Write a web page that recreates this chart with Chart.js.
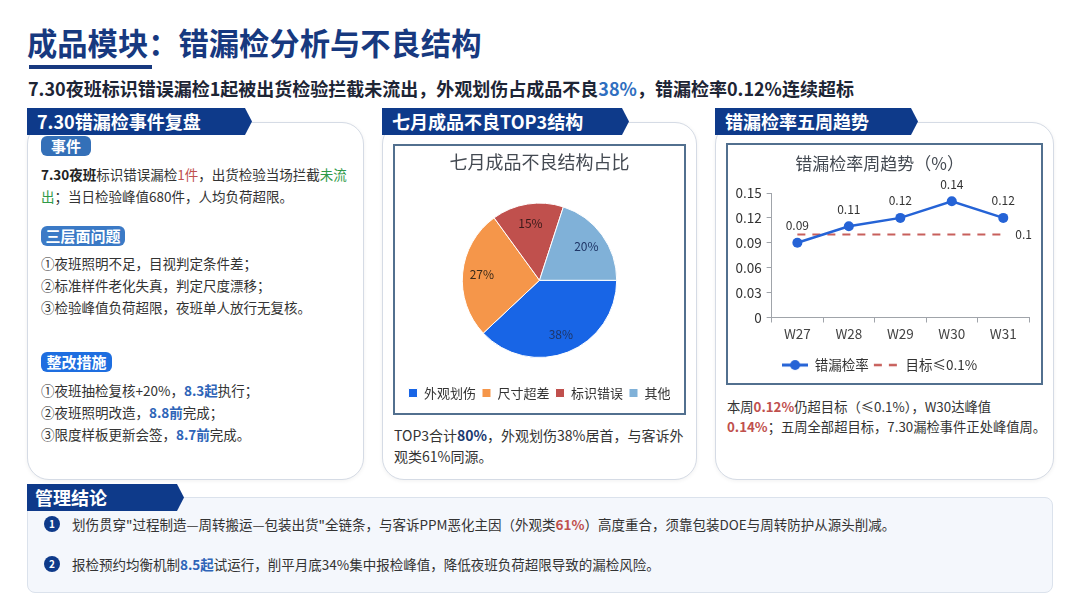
<!DOCTYPE html>
<html><head><meta charset="utf-8">
<script src="https://cdn.jsdelivr.net/npm/chart.js@4.4.1/dist/chart.umd.min.js"></script>
<style>
*{margin:0;padding:0;box-sizing:border-box}
body{width:1080px;height:608px;background:#fff;font-family:"Noto Sans CJK SC","Noto Sans",sans-serif;color:#333;position:relative;overflow:hidden}
.abs{position:absolute}
#title{left:27px;top:20px;font-size:30.3px;font-weight:700;color:#17397f;line-height:44px;white-space:nowrap}
#uline{left:29px;top:65px;width:123px;height:4px;background:#17397f}
#sub{left:28px;top:76px;font-size:18px;font-weight:700;color:#1d2535;line-height:24px;white-space:nowrap}
.card{position:absolute;background:#fff;border:1.5px solid #d5dbe5;border-radius:22px;box-shadow:0 1px 4px rgba(0,0,0,0.06)}
.tab{position:absolute;height:27px;background:#0e3a8a;color:#fff;font-weight:700;font-size:18px;line-height:27px;padding-left:10px;white-space:nowrap;clip-path:polygon(0 0,calc(100% - 7px) 0,100% 50%,calc(100% - 7px) 100%,0 100%)}
.badge{position:absolute;color:#fff;font-weight:700;font-size:15px;line-height:20px;height:20px;text-align:center;border-radius:6px}
.txt{position:absolute;font-size:13.5px;line-height:22px;white-space:nowrap;color:#333}
.frame{position:absolute;border:2px solid #52708f;background:#fff}
.red{color:#c0504d}
.rb{color:#c0504d;font-weight:700}
.grn{color:#2f9a48}
.bb{color:#2e64b8;font-weight:700}
.num{position:absolute;width:16px;height:16px;border-radius:50%;background:#0e3a8a;color:#fff;font-size:10px;font-weight:700;line-height:16px;text-align:center}
</style>
</head>
<body>
<div id="title" class="abs">成品模块：错漏检分析与不良结构</div>
<div id="uline" class="abs"></div>
<div id="sub" class="abs">7.30夜班标识错误漏检1起被出货检验拦截未流出，外观划伤占成品不良<span style="color:#2f6fc0">38%</span>，错漏检率0.12%连续超标</div>

<!-- panel 1 -->
<div class="card" style="left:27px;top:122px;width:337px;height:358px"></div>
<div class="tab" style="left:27px;top:108px;width:225px">7.30错漏检事件复盘</div>
<div class="badge" style="left:41px;top:136px;width:50px;background:#3470b8">事件</div>
<div class="txt" style="left:41px;top:163px"><b style="color:#222">7.30夜班</b>标识错误漏检<span class="red">1件</span>，出货检验当场拦截<span class="grn">未流</span><br><span class="grn">出</span>；当日检验峰值680件，人均负荷超限。</div>
<div class="badge" style="left:41px;top:226px;width:84px;background:#3b7ac6">三层面问题</div>
<div class="txt" style="left:41px;top:252px">①夜班照明不足，目视判定条件差；<br>②标准样件老化失真，判定尺度漂移；<br>③检验峰值负荷超限，夜班单人放行无复核。</div>
<div class="badge" style="left:41px;top:352px;width:71px;background:#1e6ee0">整改措施</div>
<div class="txt" style="left:41px;top:379px">①夜班抽检复核+20%，<span class="bb">8.3起</span>执行；<br>②夜班照明改造，<span class="bb">8.8前</span>完成；<br>③限度样板更新会签，<span class="bb">8.7前</span>完成。</div>

<!-- panel 2 -->
<div class="card" style="left:382px;top:122px;width:315px;height:358px"></div>
<div class="tab" style="left:382px;top:108px;width:247px">七月成品不良TOP3结构</div>
<div class="frame" style="left:393px;top:144px;width:293px;height:271px">
  <div style="position:absolute;left:0;top:0;width:289px;height:267px"><canvas id="pie"></canvas></div>
</div>
<div class="txt" style="left:394px;top:425px;font-size:14px;line-height:21px">TOP3合计<b style="color:#1b3a70">80%</b>，外观划伤38%居首，与客诉外<br>观类61%同源。</div>

<!-- panel 3 -->
<div class="card" style="left:715px;top:122px;width:339px;height:358px"></div>
<div class="tab" style="left:715px;top:108px;width:203px">错漏检率五周趋势</div>
<div class="frame" style="left:726px;top:143px;width:317px;height:242px">
  <div style="position:absolute;left:0;top:0;width:313px;height:238px"><canvas id="line"></canvas></div>
</div>
<div class="txt" style="left:727px;top:397px;font-size:13.3px;line-height:20px">本周<span class="rb">0.12%</span>仍超目标（≤0.1%），W30达峰值<br><span class="rb">0.14%</span>；五周全部超目标，7.30漏检事件正处峰值周。</div>

<!-- bottom -->
<div style="position:absolute;left:27px;top:497px;width:1026px;height:96px;background:#f4f7fc;border:1px solid #dbe2ec;border-radius:8px"></div>
<div class="tab" style="left:27px;top:484px;width:157px;padding-left:8px">管理结论</div>
<div class="num" style="left:44px;top:516px">1</div>
<div class="txt" style="left:72px;top:513px;font-size:13.5px">划伤贯穿"过程制造—周转搬运—包装出货"全链条，与客诉PPM恶化主因（外观类<span class="rb">61%</span>）高度重合，须靠包装DOE与周转防护从源头削减。</div>
<div class="num" style="left:44px;top:556px">2</div>
<div class="txt" style="left:72px;top:553px;font-size:13.5px">报检预约均衡机制<span class="bb">8.5起</span>试运行，削平月底34%集中报检峰值，降低夜班负荷超限导致的漏检风险。</div>

<script>
const defectCategories = ['外观划伤', '尺寸超差', '标识错误', '其他'];
const defectShares = [38, 27, 15, 20];
const weekLabels = ['W27', 'W28', 'W29', 'W30', 'W31'];
const missRate = [0.09, 0.11, 0.12, 0.14, 0.12];
const targetRate = [0.1, 0.1, 0.1, 0.1, 0.1];
const rateTicks = [0, 0.03, 0.06, 0.09, 0.12, 0.15];

const FAM = "'Noto Sans CJK SC','Noto Sans',sans-serif";
Chart.defaults.font.family = FAM;
Chart.defaults.color = '#333';
Chart.defaults.animation = false;

const pieColors = ['#1865e6', '#f5964a', '#c0504d', '#80b1d8'];
const pieLabelColors = ['#1e3566', '#3a2a1a', '#3a1a1a', '#1e3566'];

const pieLabels = {
  id: 'pieLabels',
  afterDatasetsDraw(chart) {
    const ctx = chart.ctx; const meta = chart.getDatasetMeta(0);
    ctx.save(); ctx.font = "12px " + FAM; ctx.textAlign = 'center'; ctx.textBaseline = 'middle';
    meta.data.forEach((arc, i) => {
      const p = arc.getProps(['x', 'y', 'startAngle', 'endAngle', 'outerRadius'], true);
      const a = (p.startAngle + p.endAngle) / 2, r = p.outerRadius * 0.75;
      ctx.fillStyle = pieLabelColors[i];
      ctx.fillText(defectShares[i] + '%', p.x + Math.cos(a) * r, p.y + Math.sin(a) * r);
    });
    ctx.restore();
  }
};

new Chart(document.getElementById('pie'), {
  type: 'pie',
  data: { labels: defectCategories, datasets: [{ data: defectShares, backgroundColor: pieColors, borderColor: '#ffffff', borderWidth: 1 }] },
  options: {
    responsive: true, maintainAspectRatio: false, rotation: 90,
    layout: { padding: { bottom: 3.5 } },
    plugins: {
      tooltip: { enabled: false },
      title: { display: true, text: '七月成品不良结构占比', color: '#444a52', font: { size: 18, weight: 'normal' }, padding: { top: 5, bottom: 30 } },
      legend: {
        position: 'bottom',
        title: { display: true, text: '', font: { size: 1 }, padding: { top: 21.3, bottom: 0 } },
        labels: { boxWidth: 9, boxHeight: 9, padding: 6, color: '#333', font: { size: 13 } }
      }
    }
  },
  plugins: [pieLabels]
});

function makeMarker(kind) {
  const c = document.createElement('canvas'); c.width = 26; c.height = 12;
  const g = c.getContext('2d');
  if (kind === 'line') {
    g.strokeStyle = '#2563d6'; g.lineWidth = 3; g.beginPath(); g.moveTo(0, 6); g.lineTo(26, 6); g.stroke();
    g.fillStyle = '#2563d6'; g.beginPath(); g.arc(13, 6, 5, 0, Math.PI * 2); g.fill();
  } else {
    g.strokeStyle = '#c8605c'; g.lineWidth = 2.5; g.beginPath();
    g.moveTo(1, 6); g.lineTo(9, 6); g.moveTo(16, 6); g.lineTo(24, 6); g.stroke();
  }
  return c;
}
const markers = [makeMarker('line'), makeMarker('dash')];

const lineLabels = {
  id: 'lineLabels',
  afterDatasetsDraw(chart) {
    const ctx = chart.ctx; ctx.save(); ctx.font = "12px " + FAM; ctx.fillStyle = '#333'; ctx.textBaseline = 'middle';
    const m0 = chart.getDatasetMeta(0);
    ctx.textAlign = 'center';
    m0.data.forEach((pt, i) => ctx.fillText(String(missRate[i]), pt.x, pt.y - 17));
    const m1 = chart.getDatasetMeta(1); const last = m1.data[m1.data.length - 1];
    ctx.textAlign = 'left';
    ctx.fillText(String(targetRate[targetRate.length - 1]), last.x + 12, last.y);
    ctx.restore();
  }
};

new Chart(document.getElementById('line'), {
  type: 'line',
  data: {
    labels: weekLabels,
    datasets: [
      { label: '错漏检率', data: missRate, borderColor: '#2563d6', backgroundColor: '#2563d6', borderWidth: 2.5, pointRadius: 5, pointBorderWidth: 0, pointBackgroundColor: '#2563d6', tension: 0 },
      { label: '目标≤0.1%', data: targetRate, borderColor: '#c8605c', backgroundColor: '#c8605c', borderWidth: 2, borderDash: [8, 7], pointRadius: 0, tension: 0 }
    ]
  },
  options: {
    responsive: true, maintainAspectRatio: false,
    layout: { padding: { left: 2.4, right: 12, bottom: 1.2, top: 0 } },
    scales: {
      x: {
        offset: true,
        grid: { offset: true, drawOnChartArea: false, drawTicks: true, tickLength: 5, color: '#a0a4aa' },
        border: { display: true, color: '#a0a4aa' },
        ticks: { padding: 3, color: '#444', font: { size: 13.5 } }
      },
      y: {
        min: 0, max: 0.15,
        afterBuildTicks: s => { s.ticks = rateTicks.map(v => ({ value: v })); },
        grid: { drawOnChartArea: false, drawTicks: true, tickLength: 5, color: '#a0a4aa' },
        border: { display: true, color: '#a0a4aa' },
        ticks: { padding: 5, color: '#333', font: { size: 13.5 }, callback: v => v === 0 ? '0' : Number(v).toFixed(2) }
      }
    },
    plugins: {
      tooltip: { enabled: false },
      title: { display: true, text: '错漏检率周趋势（%）', color: '#444a52', font: { size: 17, weight: 'normal' }, padding: { top: 8, bottom: 19.6 } },
      legend: {
        position: 'bottom',
        title: { display: true, text: '', font: { size: 1 }, padding: { top: 8.4, bottom: 0 } },
        labels: {
          usePointStyle: true, pointStyleWidth: 26, padding: 4, color: '#333', font: { size: 13.5 },
          generateLabels(chart) {
            const items = Chart.defaults.plugins.legend.labels.generateLabels(chart);
            items.forEach((it, i) => { it.pointStyle = markers[i]; });
            return items;
          }
        }
      }
    }
  },
  plugins: [lineLabels]
});
</script>
</body></html>
